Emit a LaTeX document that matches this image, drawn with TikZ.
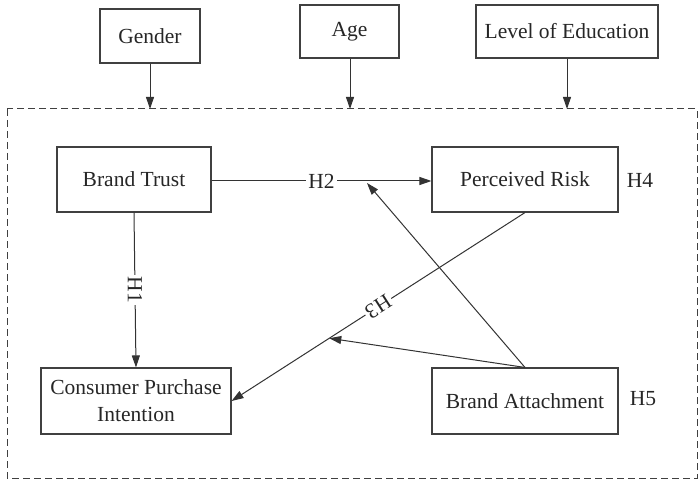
\documentclass[tikz,border=0pt]{standalone}
\usepackage{fontspec}
\setmainfont{Liberation Serif}
\usetikzlibrary{arrows.meta,calc}
\begin{document}
\begin{tikzpicture}[x=1pt,y=-1pt,
  every node/.style={font=\fontsize{21.5}{27}\selectfont, text=black!85},
  box/.style={draw=black!75, line width=1.1pt, inner sep=0pt, align=center},
  conn/.style={draw=black!80, line width=1pt},
  arr/.style={conn, -{Triangle[length=12pt,width=8pt]}},
  lbl/.style={fill=white, inner sep=2pt}]
\useasboundingbox (0,0) rectangle (698,481);
% moderators
\node[box, minimum width=100pt, minimum height=54pt] (G) at (150,36) {Gender};
\node[box, minimum width=99pt, minimum height=53pt] (A) at (349.5,31.5) {Age};
\node[box, minimum width=182pt, minimum height=53pt] (E) at (567,31.5) {Level of Education};
% dashed frame
\draw[black!75, line width=1pt, dash pattern=on 7pt off 4pt] (7,109) rectangle (697,478);
\coordinate (gT) at (150,109);
\coordinate (aT) at (350,109);
\coordinate (eT) at (567,109);
\draw[arr] (G.south -| gT) -- (gT);
\draw[arr] (A.south -| aT) -- (aT);
\draw[arr] (E.south -| eT) -- (eT);
% main boxes
\node[box, minimum width=154pt, minimum height=65pt] (BT) at (134,179.5) {Brand Trust};
\node[box, minimum width=186pt, minimum height=65pt] (PR) at (525,179.5) {Perceived Risk};
\node[box, minimum width=190pt, minimum height=66pt] (CPI) at (136,401) {Consumer Purchase\\Intention};
\node[box, minimum width=186pt, minimum height=66pt] (BA) at (525,401) {Brand Attachment};
\node (H4) at (640,180) {H4};
\node (H5) at (643,399) {H5};
% paths
\draw[arr] (BT.east |- 0,181) -- node[lbl] {H2} (PR.west |- 0,181);
\draw[arr] (BT.south) -- node[lbl, rotate=-90] {H1} (CPI.north);
\draw[arr] (PR.south) -- node[lbl, rotate=212.7] {H3} (CPI.east);
\coordinate (m2) at (367,183);
\coordinate (m3) at ($(PR.south)!0.667!(CPI.east)$);
\draw[arr] (BA.north) -- (m2);
\draw[arr] (BA.north) -- (m3);
\end{tikzpicture}
\end{document}
